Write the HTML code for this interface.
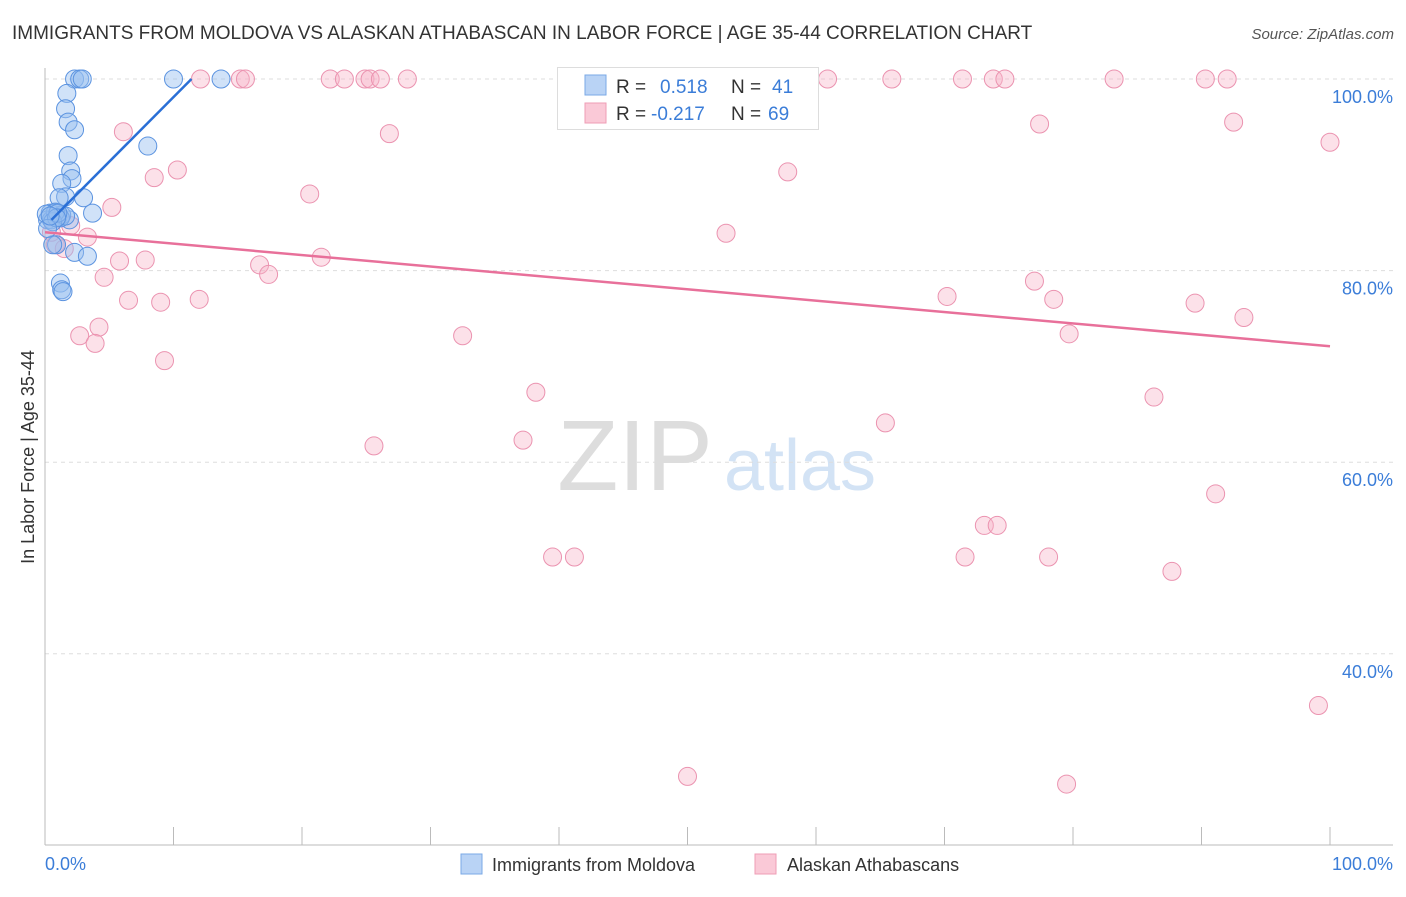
<!DOCTYPE html>
<html><head><meta charset="utf-8"><style>
body{margin:0;background:#fff;font-family:"Liberation Sans",sans-serif;}
svg text{font-family:"Liberation Sans",sans-serif;}
</style></head><body>
<svg id="c" width="1406" height="892" xmlns="http://www.w3.org/2000/svg">
<text x="12" y="39" font-size="19" fill="#333">IMMIGRANTS FROM MOLDOVA VS ALASKAN ATHABASCAN IN LABOR FORCE | AGE 35-44 CORRELATION CHART</text>
<text x="1394" y="39" font-size="15" fill="#555" text-anchor="end" font-style="italic">Source: ZipAtlas.com</text>
<g>
<text x="635" y="490" font-size="100" fill="#ddd" text-anchor="middle" font-family="Liberation Serif">ZIP</text>
<text x="800" y="490" font-size="72" fill="#d3e3f5" text-anchor="middle">atlas</text>
</g>
<g id="grid"></g>
<line x1="45" y1="68" x2="45" y2="845" stroke="#bbb"/>
<line x1="45" y1="845" x2="1393" y2="845" stroke="#bbb"/>
<text transform="translate(34,457) rotate(-90)" font-size="18" fill="#333" text-anchor="middle">In Labor Force | Age 35-44</text>
<text x="45" y="870" font-size="18" fill="#3b7dd8">0.0%</text>
<text x="1393" y="870" font-size="18" fill="#3b7dd8" text-anchor="end">100.0%</text>
<g id="pts"></g>
<g>
<rect x="557.5" y="67.5" width="261" height="62" fill="#fff" stroke="#ddd"/>
<rect x="585" y="75" width="21" height="20" fill="#b9d3f5" stroke="#7aa8e6"/>
<rect x="585" y="103" width="21" height="20" fill="#fac9d7" stroke="#ef9db6"/>
<text x="616" y="93" font-size="19" fill="#333">R = </text><text x="660" y="93" font-size="19" fill="#3b7dd8">0.518</text>
<text x="731" y="93" font-size="19" fill="#333">N = </text><text x="772" y="93" font-size="19" fill="#3b7dd8">41</text>
<text x="616" y="120" font-size="19" fill="#333">R = </text><text x="651" y="120" font-size="19" fill="#3b7dd8">-0.217</text>
<text x="731" y="120" font-size="19" fill="#333">N = </text><text x="768" y="120" font-size="19" fill="#3b7dd8">69</text>
</g>
<g>
<rect x="461" y="854" width="21" height="20" fill="#b9d3f5" stroke="#7aa8e6"/>
<text x="492" y="871" font-size="18" fill="#333">Immigrants from Moldova</text>
<rect x="755" y="854" width="21" height="20" fill="#fac9d7" stroke="#ef9db6"/>
<text x="787" y="871" font-size="18" fill="#333">Alaskan Athabascans</text>
</g>
</svg>
<script>
const yTicks=[100,80,60,40];
const yTickLabels=["100.0%","80.0%","60.0%","40.0%"];
const xTicks=[10,20,30,40,50,60,70,80,90,100];
const blueX=[2.3,2.7,2.9,10.0,13.7,1.7,1.6,1.8,2.3,1.8,2.0,2.1,1.3,1.6,3.0,1.1,8.0,3.7,1.9,0.4,0.8,1.0,1.3,0.2,0.5,1.2,1.6,0.9,2.3,3.3,0.6,1.2,1.3,1.4,0.8,0.1,0.6,1.0,0.9,0.2,0.4];
const blueY=[100,100,100,100,100,98.5,96.9,95.5,94.7,92.0,90.4,89.6,89.1,87.7,87.6,87.6,93.0,86.0,85.3,86.0,86.0,85.6,85.8,85.3,85.3,85.5,85.7,82.7,81.9,81.5,82.7,78.7,78.0,77.8,86.1,85.9,85.1,86.0,85.5,84.4,85.7];
const pinkX=[12.1,15.2,15.6,22.2,23.3,24.9,25.3,26.1,28.2,60.9,65.9,71.4,73.8,74.7,83.2,90.3,92.0,6.1,26.8,77.4,92.5,100,8.5,10.3,20.6,57.8,5.2,2.0,3.3,53.0,5.8,7.8,21.5,16.7,17.4,4.6,6.5,9.0,12.0,4.2,2.7,3.9,9.3,32.5,38.2,37.2,25.6,65.4,77.0,70.2,78.5,79.7,89.5,93.3,86.3,91.1,73.1,74.1,71.6,78.1,39.5,41.2,87.7,99.1,50.0,79.5,0.8,1.5,0.5];
const pinkY=[100,100,100,100,100,100,100,100,100,100,100,100,100,100,100,100,100,94.5,94.3,95.3,95.5,93.4,89.7,90.5,88.0,90.3,86.6,84.7,83.5,83.9,81.0,81.1,81.4,80.6,79.6,79.3,76.9,76.7,77.0,74.1,73.2,72.4,70.6,73.2,67.3,62.3,61.7,64.1,78.9,77.3,77.0,73.4,76.6,75.1,66.8,56.7,53.4,53.4,50.1,50.1,50.1,50.1,48.6,34.6,27.2,26.4,82.7,82.3,84.0];
const blueTrendX=[0.5,11.4];
const blueTrendY=[85.3,100];
const pinkTrendX=[0,100];
const pinkTrendY=[84.0,72.1];
const NS="http://www.w3.org/2000/svg";
const sx=v=>45+v*12.85;
const sy=v=>79+(100-v)*9.58;
function mk(t,a,p){const e=document.createElementNS(NS,t);for(const k in a)e.setAttribute(k,a[k]);p.appendChild(e);return e;}
const grid=document.getElementById('grid');
yTicks.forEach((t,i)=>{
 const l=mk('line',{x1:45,x2:1393,y1:sy(t),y2:sy(t),stroke:'#ddd','stroke-dasharray':'4,4'},grid);
 
 
 const tx=mk('text',{x:1393,y:sy(t)+24,'font-size':18,fill:'#3b7dd8','text-anchor':'end'},grid);
 tx.textContent=yTickLabels[i];
 
 
});
xTicks.forEach(t=>{
 const l=mk('line',{x1:sx(t),x2:sx(t),y1:827,y2:845,stroke:'#bbb'},grid);
 
 
});
const pts=document.getElementById('pts');
pinkX.forEach((x,i)=>{
 const c=mk('circle',{cx:sx(x),cy:sy(pinkY[i]),r:9,fill:'rgba(248,180,200,0.4)',stroke:'#eb93b0','stroke-width':1},pts);
 
 
});
blueX.forEach((x,i)=>{
 const c=mk('circle',{cx:sx(x),cy:sy(blueY[i]),r:9,fill:'rgba(150,190,240,0.45)',stroke:'#5b93e0','stroke-width':1},pts);
 
 
});
const bl=mk('line',{x1:sx(blueTrendX[0]),y1:sy(blueTrendY[0]),x2:sx(blueTrendX[1]),y2:sy(blueTrendY[1]),stroke:'#2a6fd6','stroke-width':2.5},pts);


const pl=mk('line',{x1:sx(pinkTrendX[0]),y1:sy(pinkTrendY[0]),x2:sx(pinkTrendX[1]),y2:sy(pinkTrendY[1]),stroke:'#e8709a','stroke-width':2.5},pts);


</script>
</body></html>
